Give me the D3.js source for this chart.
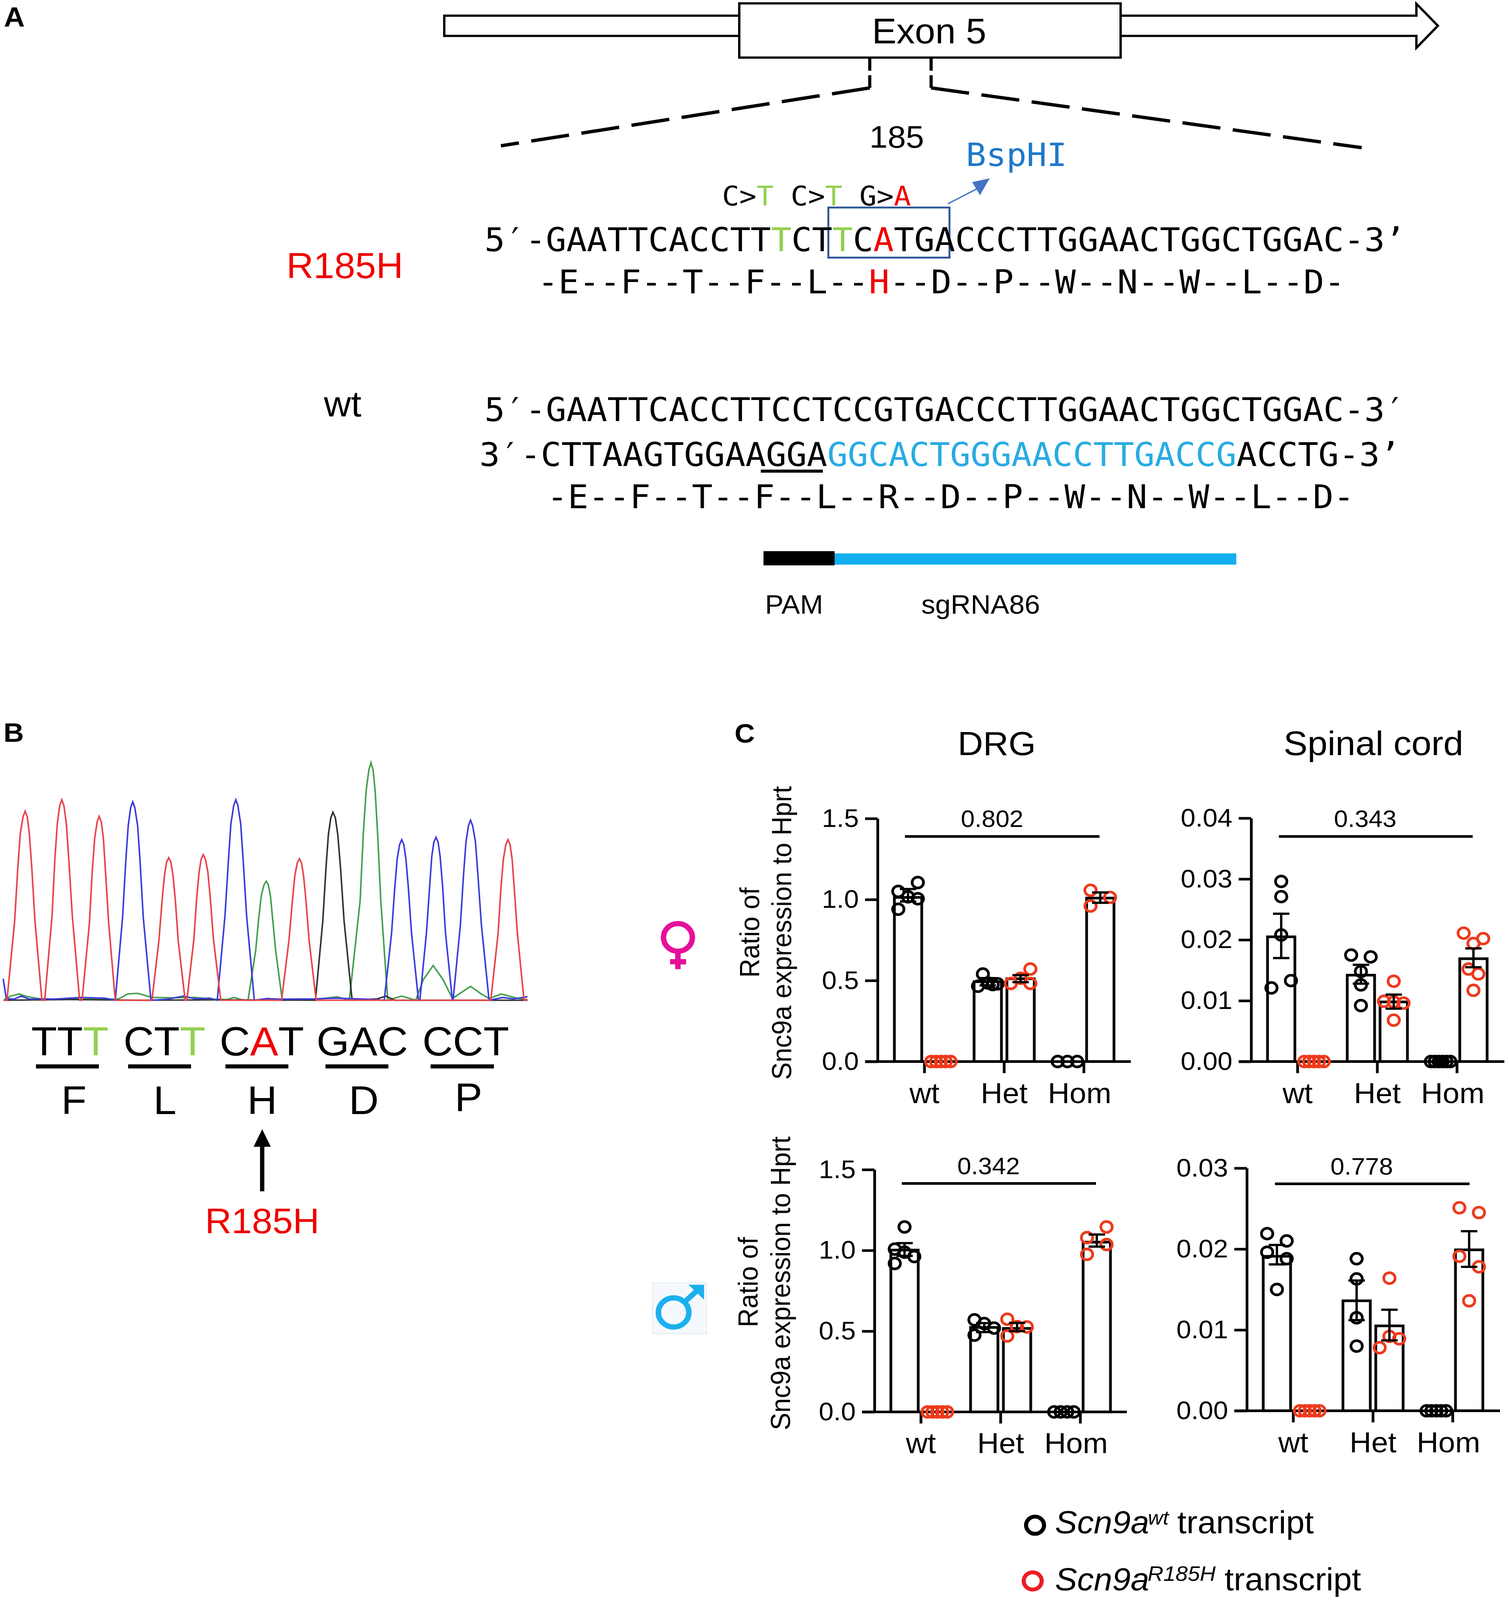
<!DOCTYPE html>
<html>
<head>
<meta charset="utf-8">
<script src="https://cdn.jsdelivr.net/npm/d3@7"></script>
<style>
	html, body {margin:0; background:#fff; overflow:hidden;}
	text {font-family:"Liberation Sans", Arial, sans-serif; fill:#000;}
	.mono {font-family:"DejaVu Sans Mono", monospace;}
	.axis text {font-family:"Liberation Sans", Arial, sans-serif; fill:#000;}
</style>
</head>
<body>
<div id="fig"></div>
<script>
const GREEN = "#92d050", RED = "#f00000", SKY = "#29abe2";

// sequences of panel A
const conversions = [["C>",null],["T",GREEN],[" C>",null],["T",GREEN],[" G>",null],["A",RED]];
const mutantSeq = [["5′-GAATTCACCTT",null],["T",GREEN],["CT",null],["T",GREEN],["C",null],["A",RED],["TGACCCTTGGAACTGGCTGGAC-3’",null]];
const mutantAA = [["-E--F--T--F--L--",null],["H",RED],["--D--P--W--N--W--L--D-",null]];
const wtSeq = [["5′-GAATTCACCTTCCTCCGTGACCCTTGGAACTGGCTGGAC-3′",null]];
const wtRev = [["3′-CTTAAGTGGAAGGA",null],["GGCACTGGGAACCTTGACCG",SKY],["ACCTG-3’",null]];
const wtAA = [["-E--F--T--F--L--R--D--P--W--N--W--L--D-",null]];

// panel B chromatogram, [scan, signal]
const traceT = [[10,0],[20,0],[42,229],[51,382],[58,480],[66,529],[72,545],[78,529],[84,480],[91,382],[100,229],[120,0],
	[128,0],[149,243],[157,405],[164,509],[171,561],[177,578],[183,561],[190,509],[197,405],[207,243],[228,0],
	[235,0],[256,223],[264,371],[271,466],[278,514],[284,530],[290,514],[296,466],[302,371],[311,223],[330,0],
	[435,0],[455,173],[464,288],[471,362],[477,399],[483,411],[489,399],[495,362],[502,288],[510,173],[530,0],
	[535,0],[555,176],[563,294],[570,370],[576,407],[582,420],[588,407],[595,370],[602,294],[611,176],[632,0],
	[806,0],[827,171],[837,286],[844,359],[851,396],[857,408],[863,396],[869,359],[876,286],[885,171],[905,0],
	[1405,0],[1426,194],[1434,324],[1441,407],[1448,449],[1454,463],[1460,449],[1466,407],[1472,324],[1481,194],[1500,0],[1510,2]];
const traceC = [[9,62],[18,5],[40,3],[60,12],[85,3],[125,4],[150,3],[232,8],[300,6],[330,0],
	[351,240],[360,400],[367,503],[374,555],[380,572],[386,555],[394,503],[401,400],[410,240],[432,0],
	[480,3],[525,12],[560,4],[600,6],[622,0],[644,243],[654,405],[661,509],[669,561],[675,578],[681,561],[689,509],[696,405],[706,243],[728,0],
	[765,5],[800,3],[900,4],[960,6],[1050,3],[1100,0],[1121,194],[1130,324],[1137,407],[1144,449],[1150,463],[1156,449],[1162,407],[1169,324],[1178,194],[1198,0],
	[1202,0],[1221,197],[1230,329],[1236,414],[1242,456],[1248,470],[1254,456],[1260,414],[1267,329],[1275,197],[1295,0],
	[1297,0],[1318,218],[1327,363],[1334,457],[1341,503],[1347,519],[1353,503],[1361,457],[1368,363],[1378,218],[1400,0],
	[1440,8],[1470,4],[1510,10]];
const traceA = [[12,2],[30,12],[55,18],[80,10],[115,4],[200,3],[300,3],[340,4],[365,18],[395,20],[435,8],[500,7],[560,8],[610,3],
	[650,2],[670,8],[690,2],[710,0],[732,144],[741,240],[748,302],[756,333],[762,343],[768,333],[774,302],[780,240],[789,144],[808,0],
	[900,2],[965,10],[1000,0],[1031,288],[1040,480],[1048,603],[1056,664],[1062,685],[1068,664],[1074,603],[1081,480],[1090,288],[1110,0],
	[1150,12],[1190,0],[1212,60],[1240,100],[1268,60],[1295,5],[1320,22],[1347,40],[1375,20],[1400,5],[1435,18],[1480,6],[1510,2]];
const traceG = [[10,0],[200,2],[400,0],[620,1],[903,0],[924,228],[933,379],[940,477],[947,526],[953,542],[960,526],[967,477],[975,379],[985,228],[1008,0],
	[1080,4],[1105,12],[1130,0],[1510,0]];

// panel B base calling
const codons = [[["TT",null],["T",GREEN]],[["CT",null],["T",GREEN]],[["C",null],["A",RED],["T",null]],[["GAC",null]],[["CCT",null]]];
const residues = ["F","L","H","D","P"];

// panel C
const genotypes = ["wt","Het","Hom"];
const transcripts = ["wt","R185H"];

const drgFemaleMeans = [1.013,0,0.493,0.511,0,1.009];
const drgFemaleErrHigh = [1.065,0,0.515,0.533,0,1.044];
const drgFemaleErrLow = [0.988,0,0.47,0.49,0,0.98];
const drgFemalePoints = [[1.05,1.105,1.005,0.94,1.017],[0,0,0,0,0],[0.54,0.465,0.48,0.475,0.485],[0.571,0.482,0.514,0.482],[0,0,0],[1.057,1.013,0.96]];
const drgFemaleSlots = [[-2,2,2,-2,0],[-2,-1,0,1,2],[-1,-2,2,1,0],[2,2,0,-2],[-2,0,2],[-2,2,-2]];

const cordFemaleMeans = [0.0205,0,0.0142,0.0098,0,0.0169];
const cordFemaleErrHigh = [0.0243,0,0.0159,0.011,0,0.0186];
const cordFemaleErrLow = [0.017,0,0.0128,0.0087,0,0.0155];
const cordFemalePoints = [[0.0296,0.0271,0.0208,0.0133,0.0121],[0,0,0,0,0],[0.0175,0.0172,0.0148,0.0126,0.0092],[0.0132,0.0099,0.0098,0.0096,0.0068],[0,0,0,0,0,0],[0.0211,0.0202,0.0194,0.0152,0.0144,0.0117]];
const cordFemaleSlots = [[0,0,0,2,-2],[-2,-1,0,1,2],[-2,2,0,0,0],[0,-2,0,2,0],[-2,-1.2,-0.4,0.4,1.2,2],[-2,2,0,-1,1,0]];

const drgMaleMeans = [1.002,0,0.523,0.517,0,1.051];
const drgMaleErrHigh = [1.045,0,0.55,0.551,0,1.098];
const drgMaleErrLow = [0.966,0,0.494,0.5,0,1.023];
const drgMalePoints = [[1.145,1.008,0.989,0.919,0.962],[0,0,0,0,0],[0.57,0.475,0.547,0.519],[0.574,0.47,0.528,0.526],[0,0,0,0],[1.145,1.079,1.036,0.975]];
const drgMaleSlots = [[0,-2,0,-2,2],[-2,-1,0,1,2],[-2,-2,0,2],[-2,-2,0,2],[-2,-0.67,0.67,2],[2,-2,2,-2]];

const cordMaleMeans = [0.0191,0,0.0136,0.0105,0,0.0199];
const cordMaleErrHigh = [0.0205,0,0.0161,0.0125,0,0.0222];
const cordMaleErrLow = [0.0181,0,0.0112,0.0087,0,0.0178];
const cordMalePoints = [[0.0219,0.021,0.0196,0.0188,0.015],[0,0,0,0,0],[0.0188,0.0163,0.0115,0.008],[0.0164,0.0092,0.0078,0.0089],[0,0,0,0,0],[0.0251,0.0245,0.0191,0.0178,0.0136]];
const cordMaleSlots = [[-2,2,-2,2,0],[-2,-1,0,1,2],[0,0,0,0],[0,0,-2,2],[-2,-1,0,1,2],[-2,2,-2,2,0]];

const drgTicks = [0,0.5,1,1.5];
const cordFemaleTicks = [0,0.01,0.02,0.03,0.04];
const cordMaleTicks = [0,0.01,0.02,0.03];

// the window can be shorter than the figure, so the whole figure is fitted to it
var svg = d3.select("#fig").append("svg")
	.attr("width",window.innerWidth)
	.attr("height",window.innerHeight)
	.attr("viewBox","0 0 3862 4279")
	.attr("preserveAspectRatio","none")
	.style("display","block");

function label(x,y,s,size,opts){
	opts = opts || {};
	return svg.append("text")
		.attr("x",x).attr("y",y)
		.attr("font-size",size)
		.attr("text-anchor",opts.anchor || "start")
		.attr("font-weight",opts.bold ? "bold" : null)
		.attr("font-style",opts.italic ? "italic" : null)
		.style("fill",opts.color || "#000")
		.text(s);
}

function runs(x,y,parts,size,cls){
	var t = svg.append("text")
		.attr("x",x).attr("y",y)
		.attr("font-size",size)
		.attr("class",cls || null)
		.attr("xml:space","preserve")
		.style("white-space","pre");
	parts.forEach(function(p){
		t.append("tspan").style("fill",p[1] || "#000").text(p[0]);
	});
	return t;
}

function seg(x1,y1,x2,y2,w,color,dash){
	return svg.append("line")
		.attr("x1",x1).attr("y1",y1).attr("x2",x2).attr("y2",y2)
		.attr("stroke",color || "#000")
		.attr("stroke-width",w)
		.attr("stroke-dasharray",dash || null);
}

/* ---------- panel A ---------- */
label(10,71,"A",74,{bold:true});

svg.append("polygon")
	.attr("points","1137,42 3625,42 3625,10 3680,69 3625,128 3625,96 1137,96")
	.attr("fill","#fff").attr("stroke","#000").attr("stroke-width",6);
svg.append("rect")
	.attr("x",1892).attr("y",9).attr("width",976).attr("height",145)
	.attr("fill","#fff").attr("stroke","#000").attr("stroke-width",6);
label(2378,116,"Exon 5",94,{anchor:"middle"});

seg(2226,155,2226,235,8,"#000","34,12");
seg(2383,155,2383,235,8,"#000","34,12");
seg(2226,235,1282,390,9,"#000","98,32");
seg(2383,235,3485,395,9,"#000","98,32");

label(2295,395,"185",84,{anchor:"middle"});
label(2472,444,"BspHI",86,{color:"#1f78c8"}).attr("class","mono");
runs(1848,550,conversions,73,"mono");

svg.append("rect")
	.attr("x",2120).attr("y",555).attr("width",310).attr("height",134)
	.attr("fill","none").attr("stroke","#2f5597").attr("stroke-width",5);
seg(2426,545,2500,505,3.5,"#4472c4");
svg.append("polygon").attr("points","2533,477 2488,487 2508,522").attr("fill","#4472c4");

runs(1240,672,mutantSeq,87,"mono");
runs(1376,785,mutantAA,88,"mono");
label(733,744,"R185H",96,{color:RED});
label(829,1114,"wt",96);

runs(1240,1126,wtSeq,87,"mono");
runs(1227,1246,wtRev,87,"mono");
seg(1947,1260,2106,1260,8);
runs(1400,1359,wtAA,88,"mono");

svg.append("rect").attr("x",1954).attr("y",1480).attr("width",1210).attr("height",30).attr("fill","#12aeee");
svg.append("rect").attr("x",1954).attr("y",1474).attr("width",182).attr("height",38).attr("fill","#000");
label(1958,1641,"PAM",71);
label(2358,1641,"sgRNA86",71);

/* ---------- panel B ---------- */
label(9,1984,"B",72,{bold:true});

var scanX = d3.scaleLinear().domain([0,1510]).range([0,1350]);
var signalY = d3.scaleLinear().domain([0,700]).range([2675,2675-700/1.078]);
var traceLine = d3.line().x(function(d){return scanX(d[0]);}).y(function(d){return signalY(d[1]);});

[[traceA,"#45a04e"],[traceG,"#333"],[traceC,"#3c3cdc"],[traceT,"#e8444a"]].forEach(function(t){
	svg.append("path")
		.attr("d",traceLine(t[0]))
		.attr("fill","none")
		.attr("stroke",t[1])
		.attr("stroke-width",4);
});

// codons and the amino acid under each
var codonX = [80,316,562,810,1081];
var codonBar = [[92,253],[328,489],[577,738],[833,994],[1102,1264]];
var residueX = [189,422,671,931,1199];
codons.forEach(function(c,i){
	runs(codonX[i],2823,c,108);
	seg(codonBar[i][0],2852,codonBar[i][1],2852,11);
	label(residueX[i],i==4 ? 2971 : 2979,residues[i],106,{anchor:"middle"});
});
seg(671,3186,671,3055,11);
svg.append("polygon").attr("points","671,3020 693,3067 649,3067").attr("fill","#000");
label(671,3298,"R185H",94,{anchor:"middle",color:RED});

/* ---------- panel C ---------- */
label(1880,1986,"C",72,{bold:true});
label(2551,2019,"DRG",90,{anchor:"middle"});
label(3515,2019,"Spinal cord",92,{anchor:"middle"});

var BLACK_PT = "#000", RED_PT = "#ee3a1c";

function drawPanel(p){
	var g = svg.append("g");

	var y = d3.scaleLinear().domain(p.yDomain).range([p.y0,p.yTop]);
	var x = d3.scaleBand().domain(genotypes).range([p.xMid-306,p.xMid+306]);
	var sub = d3.scaleBand().domain(transcripts).range([-84,84]);

	var yAxis = d3.axisLeft(y)
		.tickValues(p.ticks)
		.tickFormat(d3.format(p.fmt))
		.tickSize(32)
		.tickSizeOuter(0)
		.tickPadding(16);
	var ya = g.append("g").attr("class","axis").attr("transform","translate("+p.xAxis+",0)").call(yAxis);
	ya.selectAll("text").attr("font-size",68).attr("fill","#000");
	ya.selectAll("line,path").attr("stroke","#000").attr("stroke-width",7);

	var xAxis = d3.axisBottom(x).tickSize(31).tickSizeOuter(0).tickPadding(25);
	var xa = g.append("g").attr("class","axis").attr("transform","translate(0,"+p.y0+")").call(xAxis);
	xa.select(".domain").remove();
	xa.selectAll("line").attr("stroke","#000").attr("stroke-width",7);
	xa.selectAll("text").attr("font-size",77).attr("fill","#000")
		.attr("dx",function(d){return d=="Hom" ? -11 : 0;});
	g.append("line")
		.attr("x1",p.xAxis-32).attr("x2",p.xEnd)
		.attr("y1",p.y0).attr("y2",p.y0)
		.attr("stroke","#000").attr("stroke-width",7);

	// six bars: two transcripts in each genotype
	var cells = [];
	genotypes.forEach(function(gt,i){
		transcripts.forEach(function(tr,j){
			var k = i*2+j;
			cells.push({gt:gt,tr:tr,mean:p.means[k],hi:p.hi[k],lo:p.lo[k],pts:p.points[k],slots:p.slots[k]});
		});
	});
	function cx(d){return x(d.gt)+x.bandwidth()/2+sub(d.tr)+sub.bandwidth()/2;}

	g.selectAll(".bar").data(cells.filter(function(d){return d.mean>0;}))
		.enter().append("rect")
		.attr("class","bar")
		.attr("x",function(d){return cx(d)-35;})
		.attr("width",70)
		.attr("y",function(d){return y(d.mean);})
		.attr("height",function(d){return y(0)-y(d.mean);})
		.attr("fill","none")
		.attr("stroke","#000")
		.attr("stroke-width",7);

	cells.forEach(function(d){
		var color = d.tr=="wt" ? BLACK_PT : RED_PT;
		g.selectAll(null).data(d.pts).enter().append("circle")
			.attr("cx",function(v,i){return cx(d)+d.slots[i]*12.5;})
			.attr("cy",function(v){return y(v);})
			.attr("r",14.5)
			.attr("fill","none")
			.attr("stroke",color)
			.attr("stroke-width",7);
	});

	// error bars sit on top of the points
	var errs = g.selectAll(".err").data(cells.filter(function(d){return d.mean>0;})).enter().append("g");
	errs.append("line")
		.attr("x1",cx).attr("x2",cx)
		.attr("y1",function(d){return y(d.hi);}).attr("y2",function(d){return y(d.lo);})
		.attr("stroke","#000").attr("stroke-width",6);
	["hi","lo"].forEach(function(k){
		errs.append("line")
			.attr("x1",function(d){return cx(d)-21;}).attr("x2",function(d){return cx(d)+21;})
			.attr("y1",function(d){return y(d[k]);}).attr("y2",function(d){return y(d[k]);})
			.attr("stroke","#000").attr("stroke-width",6);
	});

	// p value over the whole panel
	g.append("line")
		.attr("x1",p.pLine[0]).attr("x2",p.pLine[1])
		.attr("y1",p.pY).attr("y2",p.pY)
		.attr("stroke","#000").attr("stroke-width",7);
	g.append("text")
		.attr("x",p.pX).attr("y",p.pY-25)
		.attr("text-anchor","middle")
		.attr("font-size",64)
		.text(p.pVal);

	if(p.title){
		p.title.forEach(function(t){
			g.append("text")
				.attr("transform","translate("+t[0]+","+t[1]+") rotate(-90)")
				.attr("text-anchor","middle")
				.attr("font-size",70)
				.text(t[2]);
		});
	}
}

drawPanel({xAxis:2246,xMid:2570,xEnd:2894,y0:2839,yTop:2189,yDomain:[0,1.5],ticks:drgTicks,fmt:".1f",
	means:drgFemaleMeans,hi:drgFemaleErrHigh,lo:drgFemaleErrLow,points:drgFemalePoints,slots:drgFemaleSlots,
	pLine:[2316,2814],pY:2237,pX:2539,pVal:"0.802",
	title:[[1943,2494,"Ratio of"],[2025,2495,"Snc9a expression to Hprt"]]});
drawPanel({xAxis:3202,xMid:3525,xEnd:3850,y0:2839,yTop:2188,yDomain:[0,0.04],ticks:cordFemaleTicks,fmt:".2f",
	means:cordFemaleMeans,hi:cordFemaleErrHigh,lo:cordFemaleErrLow,points:cordFemalePoints,slots:cordFemaleSlots,
	pLine:[3273,3769],pY:2237,pX:3494,pVal:"0.343"});
drawPanel({xAxis:2238,xMid:2561,xEnd:2884,y0:3776,yTop:3128,yDomain:[0,1.5],ticks:drgTicks,fmt:".1f",
	means:drgMaleMeans,hi:drgMaleErrHigh,lo:drgMaleErrLow,points:drgMalePoints,slots:drgMaleSlots,
	pLine:[2308,2805],pY:3165,pX:2530,pVal:"0.342",
	title:[[1939,3429,"Ratio of"],[2022,3432,"Snc9a expression to Hprt"]]});
drawPanel({xAxis:3191,xMid:3514,xEnd:3839,y0:3773,yTop:3124,yDomain:[0,0.03],ticks:cordMaleTicks,fmt:".2f",
	means:cordMaleMeans,hi:cordMaleErrHigh,lo:cordMaleErrLow,points:cordMalePoints,slots:cordMaleSlots,
	pLine:[3263,3761],pY:3166,pX:3485,pVal:"0.778"});

// sex symbols
var PINK = "#e6109a", BLUE_SYM = "#1cb0ee";
svg.append("circle").attr("cx",1735).attr("cy",2507).attr("r",37).attr("fill","none").attr("stroke",PINK).attr("stroke-width",14);
seg(1735,2544,1735,2592,14,PINK);
seg(1715,2572,1756,2572,14,PINK);

svg.append("rect").attr("x",1670).attr("y",3431).attr("width",138).attr("height",136).attr("fill","#f5f9fd").attr("stroke","#dfe8f2").attr("stroke-width",2);
svg.append("circle").attr("cx",1724).attr("cy",3510).attr("r",39).attr("fill","none").attr("stroke",BLUE_SYM).attr("stroke-width",14);
seg(1752,3482,1790,3446,14,BLUE_SYM);
svg.append("polygon").attr("points","1802,3436 1802,3476 1762,3436").attr("fill",BLUE_SYM);

// legend
svg.append("circle").attr("cx",2649).attr("cy",4079).attr("r",23).attr("fill","none").attr("stroke","#000").attr("stroke-width",10.5);
svg.append("circle").attr("cx",2643).attr("cy",4228).attr("r",23).attr("fill","none").attr("stroke","#ee1c25").attr("stroke-width",10.5);
label(2700,4100,"Scn9a",85,{italic:true});
label(2938,4077,"wt",53,{italic:true});
label(3013,4100,"transcript",85);
label(2700,4253,"Scn9a",85,{italic:true});
label(2937,4228,"R185H",56,{italic:true});
label(3134,4253,"transcript",85);
</script>
</body>
</html>
